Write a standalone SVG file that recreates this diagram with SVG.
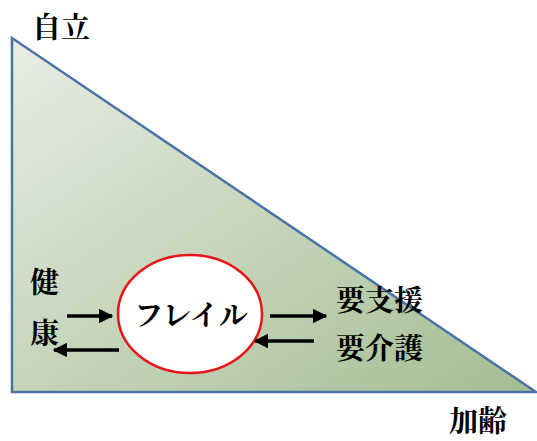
<svg xmlns="http://www.w3.org/2000/svg" width="537" height="441" viewBox="0 0 537 441">
<defs>
<linearGradient id="g" x1="0" y1="0" x2="1" y2="1" gradientUnits="objectBoundingBox">
<stop offset="0" stop-color="#e9ede4"/>
<stop offset="1" stop-color="#a3bd93"/>
</linearGradient>
<marker id="ah" viewBox="0 0 10 10" refX="9" refY="5" markerWidth="4.2" markerHeight="4.2" orient="auto" markerUnits="strokeWidth">
<path d="M0,0 L10,5 L0,10 z" fill="#000"/>
</marker>
<style>
text{font-family:"Noto Serif CJK JP","Noto Sans CJK JP",serif;font-weight:bold;font-size:29px;fill:#000}
.c{stroke:#000;stroke-width:3.5;fill:none;marker-end:url(#ah)}
</style>
</defs>
<g id="triangle">
<polygon points="12,38 12,392 536,392" fill="url(#g)" stroke="#4a72a6" stroke-width="2.5"/>
</g>
<g id="jiritsu"><text x="32" y="38">自立</text></g>
<g id="kenkou"><text x="30" y="293">健</text><text x="30" y="344">康</text></g>
<g id="frail">
<ellipse cx="190" cy="314" rx="72" ry="59" fill="#fff" stroke="#e8141a" stroke-width="2.5"/>
<text x="191" y="326" text-anchor="middle">フレイル</text>
</g>
<g id="youshien"><text x="336" y="311">要支援</text><text x="336" y="359">要介護</text></g>
<g id="karei"><text x="449" y="432">加齢</text></g>
<g id="connectors">
<line class="c" x1="67" y1="316" x2="112" y2="316"/>
<line class="c" x1="119" y1="350" x2="54" y2="350"/>
<line class="c" x1="270" y1="316" x2="326" y2="316"/>
<line class="c" x1="314" y1="341" x2="255" y2="341"/>
</g>
</svg>
